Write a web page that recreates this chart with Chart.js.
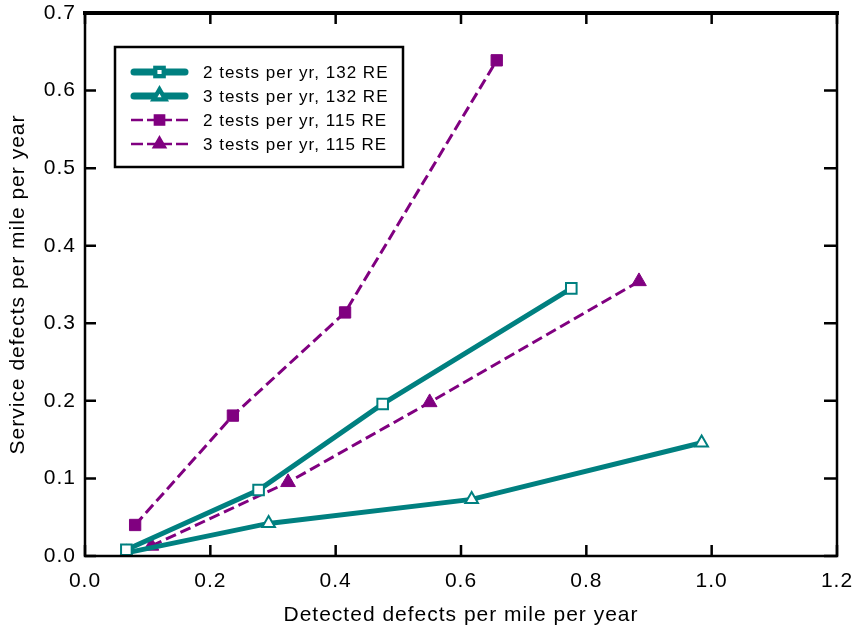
<!DOCTYPE html>
<html>
<head>
<meta charset="utf-8">
<script src="https://cdn.jsdelivr.net/npm/chart.js@4/dist/chart.umd.min.js"></script>
<style>
  html, body { margin: 0; padding: 0; background: #fff; }
  #wrap { width: 857px; height: 632px; }
</style>
</head>
<body>
<div id="wrap"><canvas id="chart" width="857" height="632"></canvas></div>
<script>
// values
const seriesNames = [
  "2 tests per yr, 132 RE",
  "3 tests per yr, 132 RE",
  "2 tests per yr, 115 RE",
  "3 tests per yr, 115 RE",
];
const x2t132 = [0.066, 0.277, 0.475, 0.776];
const y2t132 = [0.008, 0.085, 0.196, 0.345];
const x3t132 = [0.066, 0.293, 0.617, 0.984];
const y3t132 = [0.004, 0.042, 0.073, 0.146];
const x2t115 = [0.080, 0.236, 0.415, 0.657];
const y2t115 = [0.040, 0.181, 0.314, 0.639];
const x3t115 = [0.106, 0.324, 0.550, 0.884];
const y3t115 = [0.013, 0.095, 0.198, 0.354];

const xTicks = [0, 0.2, 0.4, 0.6, 0.8, 1.0, 1.2];
const yTicks = [0, 0.1, 0.2, 0.3, 0.4, 0.5, 0.6, 0.7];

const TEAL = "#008080";
const PURPLE = "#800080";
const FONT = '"Liberation Sans", Arial, Helvetica, sans-serif';

const toPoints = (xs, ys) => xs.map((x, i) => ({ x: x, y: ys[i] }));

const datasets = [
  {
    label: seriesNames[0],
    data: toPoints(x2t132, y2t132),
    borderColor: TEAL, borderWidth: 5,
    pointStyle: "rect", pointRadius: 7.5, pointBorderWidth: 2,
    pointBackgroundColor: "#fff", pointBorderColor: TEAL,
  },
  {
    label: seriesNames[1],
    data: toPoints(x3t132, y3t132),
    borderColor: TEAL, borderWidth: 5,
    pointStyle: "triangle", pointRadius: 7.3, pointBorderWidth: 2,
    pointBackgroundColor: "#fff", pointBorderColor: TEAL,
  },
  {
    label: seriesNames[2],
    data: toPoints(x2t115, y2t115),
    borderColor: PURPLE, borderWidth: 3, borderDash: [11, 5],
    pointStyle: "rect", pointRadius: 8, pointBorderWidth: 1,
    pointBackgroundColor: PURPLE, pointBorderColor: PURPLE,
  },
  {
    label: seriesNames[3],
    data: toPoints(x3t115, y3t115),
    borderColor: PURPLE, borderWidth: 3, borderDash: [11, 5],
    pointStyle: "triangle", pointRadius: 8.5, pointBorderWidth: 1,
    pointBackgroundColor: PURPLE, pointBorderColor: PURPLE,
  },
];

// the original's type runs a little wider than Liberation Sans
const spacingPlugin = {
  id: "spacing",
  beforeLayout(chart) { chart.ctx.letterSpacing = "1px"; },
  beforeDraw(chart) { chart.ctx.letterSpacing = "1px"; },
};

// frame with inward ticks on all four sides
const framePlugin = {
  id: "frame",
  afterDatasetsDraw(chart) {
    const { ctx, chartArea: a, scales } = chart;
    const tl = 11;
    ctx.save();
    ctx.strokeStyle = "#000";
    ctx.lineCap = "square";
    ctx.lineWidth = 2.5;
    ctx.beginPath();
    ctx.moveTo(a.left, a.top); ctx.lineTo(a.left, a.bottom);
    ctx.lineTo(a.right, a.bottom); ctx.lineTo(a.right, a.top);
    ctx.stroke();
    ctx.lineWidth = 4;
    ctx.beginPath();
    ctx.moveTo(a.left, a.top); ctx.lineTo(a.right, a.top);
    ctx.stroke();
    ctx.lineCap = "butt";
    ctx.lineWidth = 2.5;
    ctx.beginPath();
    xTicks.forEach((v) => {
      const px = scales.x.getPixelForValue(v);
      ctx.moveTo(px, a.bottom); ctx.lineTo(px, a.bottom - tl);
      ctx.moveTo(px, a.top); ctx.lineTo(px, a.top + tl);
    });
    yTicks.forEach((v) => {
      const py = scales.y.getPixelForValue(v);
      ctx.moveTo(a.left, py); ctx.lineTo(a.left + tl, py);
      ctx.moveTo(a.right, py); ctx.lineTo(a.right - tl - 2, py);
    });
    ctx.stroke();
    ctx.restore();
  },
};

// boxed legend drawn like the original
const legendPlugin = {
  id: "boxLegend",
  afterDraw(chart) {
    const { ctx } = chart;
    const bx = 115, by = 47, bw = 288, bh = 120;
    ctx.save();
    ctx.fillStyle = "#fff";
    ctx.fillRect(bx, by, bw, bh);
    ctx.strokeStyle = "#000";
    ctx.lineWidth = 2.5;
    ctx.strokeRect(bx, by, bw, bh);
    ctx.font = "17px " + FONT;
    ctx.letterSpacing = "1px";
    ctx.textBaseline = "middle";
    chart.data.datasets.forEach((ds, i) => {
      const y = 72 + i * 24;
      const x0 = 131, x1 = 188, xm = (x0 + x1) / 2;
      const thick = ds.borderWidth > 3;
      ctx.strokeStyle = ds.borderColor;
      ctx.lineWidth = thick ? 7 : 2.5;
      ctx.lineCap = thick ? "round" : "butt";
      ctx.beginPath();
      if (thick) {
        ctx.moveTo(x0 + 3, y); ctx.lineTo(x1 - 3, y);
      } else {
        ctx.moveTo(x0, y); ctx.lineTo(x0 + 12, y);
        ctx.moveTo(x0 + 16, y); ctx.lineTo(xm, y);
        ctx.moveTo(xm, y); ctx.lineTo(x1 - 16, y);
        ctx.moveTo(x1 - 12, y); ctx.lineTo(x1, y);
      }
      ctx.stroke();
      ctx.lineCap = "butt";
      Chart.helpers.drawPoint(ctx, {
        pointStyle: ds.pointStyle,
        radius: thick ? 4 : 6.5,
        borderWidth: ds.pointBorderWidth,
      }, xm, y);
      ctx.fillStyle = ds.pointBackgroundColor;
      ctx.strokeStyle = ds.pointBorderColor;
      ctx.lineWidth = thick ? 1.5 : 1;
      ctx.fill();
      ctx.stroke();
      ctx.fillStyle = "#000";
      ctx.textAlign = "left";
      ctx.fillText(ds.label, 203, y + 1);
    });
    ctx.restore();
  },
};

new Chart(document.getElementById("chart").getContext("2d"), {
  type: "line",
  data: { datasets: datasets },
  plugins: [spacingPlugin, framePlugin, legendPlugin],
  options: {
    responsive: false,
    animation: false,
    layout: { padding: { top: 13, right: 20, left: 0, bottom: 0 } },
    plugins: { legend: { display: false }, tooltip: { enabled: false } },
    elements: { line: { tension: 0, fill: false } },
    scales: {
      x: {
        type: "linear",
        min: 0, max: 1.2,
        afterBuildTicks: (s) => { s.ticks = xTicks.map((v) => ({ value: v })); },
        afterFit: (s) => { s.height = 76; s.paddingLeft = 0; s.paddingRight = 0; },
        grid: { display: false, drawTicks: false },
        border: { display: false },
        ticks: {
          color: "#000", padding: 13,
          font: { family: FONT, size: 21 },
          callback: (v) => Number(v).toFixed(1),
        },
        title: {
          display: true, text: "Detected defects per mile per year", color: "#000",
          font: { family: FONT, size: 21 }, padding: { top: 0, bottom: 4 },
        },
      },
      y: {
        type: "linear",
        min: 0, max: 0.7,
        afterBuildTicks: (s) => { s.ticks = yTicks.map((v) => ({ value: v })); },
        afterFit: (s) => { s.width = 85; s.paddingTop = 0; s.paddingBottom = 0; },
        grid: { display: false, drawTicks: false },
        border: { display: false },
        ticks: {
          color: "#000", padding: 9,
          font: { family: FONT, size: 21 },
          callback: (v) => Number(v).toFixed(1),
        },
        title: {
          display: true, text: "Service defects per mile per year", color: "#000",
          font: { family: FONT, size: 21 }, padding: { top: 6, bottom: 0 },
        },
      },
    },
  },
});
</script>
</body>
</html>
